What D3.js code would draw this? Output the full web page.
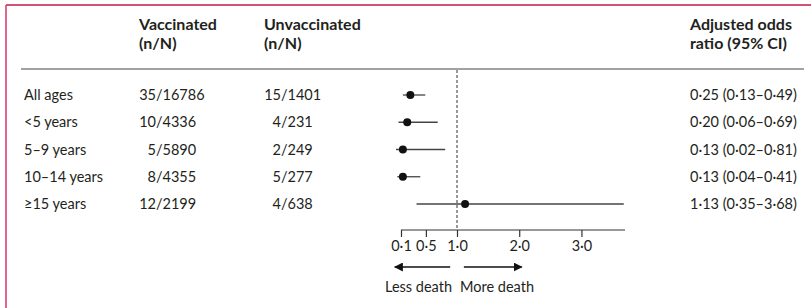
<!DOCTYPE html>
<html>
<head><meta charset="utf-8">
<title>Forest plot</title>
<style>
body { margin:0; background:#fff; }
svg text { font-family: Lato, "Open Sans", sans-serif; fill:#231f20; }
</style>
</head>
<body>
<svg width="811" height="308"></svg>
<script src="https://d3js.org/d3.v7.min.js"></script>
<script>
// data
var groups = ["All ages", "<5 years", "5\u20139 years", "10\u201314 years", "\u226515 years"];
var vaccN = [35, 10, 5, 8, 12];
var vaccTotal = [16786, 4336, 5890, 4355, 2199];
var unvaccN = [15, 4, 2, 5, 4];
var unvaccTotal = [1401, 231, 249, 277, 638];
var or = [0.25, 0.20, 0.13, 0.13, 1.13];
var lo = [0.13, 0.06, 0.02, 0.04, 0.35];
var hi = [0.49, 0.69, 0.81, 0.41, 3.68];
var ticks = [0.1, 0.5, 1.0, 2.0, 3.0];

var svg = d3.select("svg");
var fs = 14.5;
var dot = function(v, d) { return v.toFixed(d).replace(".", "\u00b7"); };

// frame (left + top rule)
svg.append("line").attr("x1", 6).attr("x2", 811).attr("y1", 5).attr("y2", 5)
  .attr("stroke", "#c41a4a").attr("stroke-width", 1.5);
svg.append("line").attr("x1", 6).attr("x2", 6).attr("y1", 5).attr("y2", 308)
  .attr("stroke", "#d9356a").attr("stroke-width", 1.5);

// headers
var head = svg.append("g").attr("font-weight", "bold").attr("font-size", 16);
[[139, "Vaccinated", "(n/N)"], [264, "Unvaccinated", "(n/N)"], [690, "Adjusted odds", "ratio (95% CI)"]]
  .forEach(function(h) {
    head.append("text").attr("x", h[0]).attr("y", 30).text(h[1]);
    head.append("text").attr("x", h[0]).attr("y", 49).text(h[2]);
  });
svg.append("line").attr("x1", 21).attr("x2", 804).attr("y1", 69).attr("y2", 69)
  .attr("stroke", "#444").attr("stroke-width", 1.2);

var y = d3.scalePoint().domain(groups).range([95, 204]);
var x = d3.scaleLinear().domain([0.1, 3.7]).range([401, 625]);

var rows = svg.append("g").attr("font-size", fs);
groups.forEach(function(g, i) {
  var yy = y(g) + 5;
  rows.append("text").attr("x", 24).attr("y", yy).text(g);
  rows.append("text").attr("x", 156).attr("y", yy).attr("text-anchor", "end").text(vaccN[i]);
  rows.append("text").attr("x", 156).attr("y", yy).text("/" + vaccTotal[i]);
  rows.append("text").attr("x", 281).attr("y", yy).attr("text-anchor", "end").text(unvaccN[i]);
  rows.append("text").attr("x", 281).attr("y", yy).text("/" + unvaccTotal[i]);
  rows.append("text").attr("x", 690).attr("y", yy)
    .text(dot(or[i], 2) + " (" + dot(lo[i], 2) + "\u2013" + dot(hi[i], 2) + ")");
});

// reference line at 1
svg.append("line").attr("x1", x(1)).attr("x2", x(1)).attr("y1", 70).attr("y2", 230)
  .attr("stroke", "#555").attr("stroke-width", 1.2).attr("stroke-dasharray", "3,2");

// CIs and points
svg.append("g").selectAll("line").data(groups).join("line")
  .attr("x1", function(d, i) { return x(lo[i]); })
  .attr("x2", function(d, i) { return x(hi[i]); })
  .attr("y1", function(d) { return y(d); }).attr("y2", function(d) { return y(d); })
  .attr("stroke", "#444").attr("stroke-width", 1.3);
svg.append("g").selectAll("circle").data(groups).join("circle")
  .attr("cx", function(d, i) { return x(or[i]); })
  .attr("cy", function(d) { return y(d); })
  .attr("r", 4).attr("fill", "#111");

// axis
var axis = d3.axisBottom(x).tickValues(ticks).tickSize(7).tickPadding(4)
  .tickFormat(function(d) { return dot(d, 1); });
var ax = svg.append("g").attr("transform", "translate(0,230)").call(axis);
ax.select(".domain").attr("d", "M" + x(0.1) + ",0H" + x(3.7)).attr("stroke", "#333").attr("stroke-width", 1.2);
ax.selectAll(".tick line").attr("stroke", "#333").attr("stroke-width", 1.2);
ax.selectAll(".tick text").attr("font-size", fs).attr("font-family", "Lato, sans-serif").attr("fill", "#231f20");

// direction arrows
var defs = svg.append("defs");
defs.append("marker").attr("id", "ah").attr("viewBox", "0 0 10 10").attr("refX", 9).attr("refY", 5)
  .attr("markerWidth", 6).attr("markerHeight", 6).attr("orient", "auto-start-reverse")
  .append("path").attr("d", "M0,0L10,5L0,10Z").attr("fill", "#111");
svg.append("line").attr("x1", x(0.89)).attr("x2", x(0.0)).attr("y1", 267).attr("y2", 267)
  .attr("stroke", "#111").attr("stroke-width", 1.5).attr("marker-end", "url(#ah)");
svg.append("line").attr("x1", x(1.11)).attr("x2", x(2.04)).attr("y1", 267).attr("y2", 267)
  .attr("stroke", "#111").attr("stroke-width", 1.5).attr("marker-end", "url(#ah)");
svg.append("text").attr("x", 385).attr("y", 292).attr("font-size", fs).text("Less death");
svg.append("text").attr("x", 460).attr("y", 292).attr("font-size", fs).text("More death");
</script>
</body>
</html>
